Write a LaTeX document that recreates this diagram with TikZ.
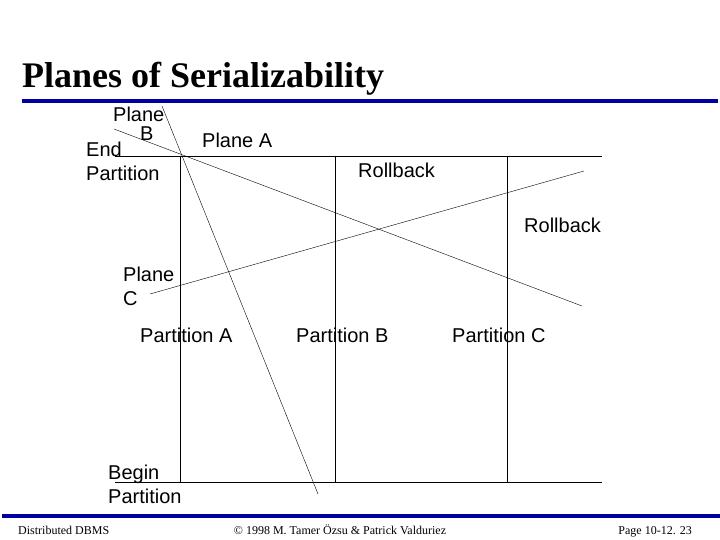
\documentclass[tikz,border=0pt]{standalone}
\usepackage{fontspec}
\setmainfont{Liberation Serif}
\newfontfamily\arialfont{Liberation Sans}
\definecolor{barblue}{RGB}{0,0,160}
\tikzset{
  lbl/.style={font=\arialfont\fontsize{20}{22}\selectfont, inner sep=0pt, align=left},
  foot/.style={font=\fontsize{12}{14}\selectfont, inner sep=0pt},
  bar/.style={barblue, line width=4.5pt},
}
\begin{document}
\begin{tikzpicture}[x=1pt,y=-1pt]
	\useasboundingbox (0,0) rectangle (720,540);

	\node[anchor=base west, inner sep=0pt, font=\bfseries\fontsize{36}{38}\selectfont] (title) at (22,88) {Planes of Serializability};
	\draw[bar] (22,101) -- (718,101);

	% partition grid
	\coordinate (tl) at (115,156);
	\coordinate (tr) at (602,156);
	\coordinate (bl) at (115,482);
	\coordinate (br) at (602,482);
	\draw (tl) -- (tr);
	\draw (bl) -- (br);
	\draw (180,156) -- (180,482);
	\draw (335,156) -- (335,482);
	\draw (507,156) -- (507,482);

	% planes
	\coordinate (pb1) at (162,106);
	\coordinate (pb2) at (318,494);
	\coordinate (pa1) at (114,129);
	\coordinate (pa2) at (582,306);
	\coordinate (pc1) at (150,294);
	\coordinate (pc2) at (584,171);
	\draw (pb1) -- (pb2);
	\draw (pa1) -- (pa2);
	\draw (pc1) -- (pc2);

	\node[lbl, anchor=base west] (planeb) at (113,122) {Plane};
	\node[lbl, anchor=base west] (planebb) at (140,141) {B};
	\node[lbl, anchor=base west] (planea) at (202,148) {Plane A};
	\node[lbl, anchor=base west] (endp) at (86,157) {End};
	\node[lbl, anchor=base west] (endpp) at (86,181) {Partition};
	\node[lbl, anchor=base west] (rb1) at (358,178) {Rollback};
	\node[lbl, anchor=base west] (rb2) at (524,233) {Rollback};
	\node[lbl, anchor=base west] (planec) at (123,281) {Plane};
	\node[lbl, anchor=base west] (planecc) at (123,305) {C};
	\node[lbl, anchor=base west] (parta) at (140,342) {Partition A};
	\node[lbl, anchor=base west] (partb) at (296,342) {Partition B};
	\node[lbl, anchor=base west] (partc) at (452,342) {Partition C};
	\node[lbl, anchor=base west] (beg) at (108,479) {Begin};
	\node[lbl, anchor=base west] (begp) at (108,503) {Partition};

	% footer
	\draw[bar] (2,516) -- (720,516);
	\node[foot, anchor=base west] (fl) at (18,534) {Distributed DBMS};
	\node[foot, anchor=base] (fc) at (340,534) {\textcopyright{} 1998 M. Tamer Özsu \& Patrick Valduriez};
	\node[foot, anchor=base east] (fr) at (692,534) {Page 10-12. 23};
\end{tikzpicture}
\end{document}
